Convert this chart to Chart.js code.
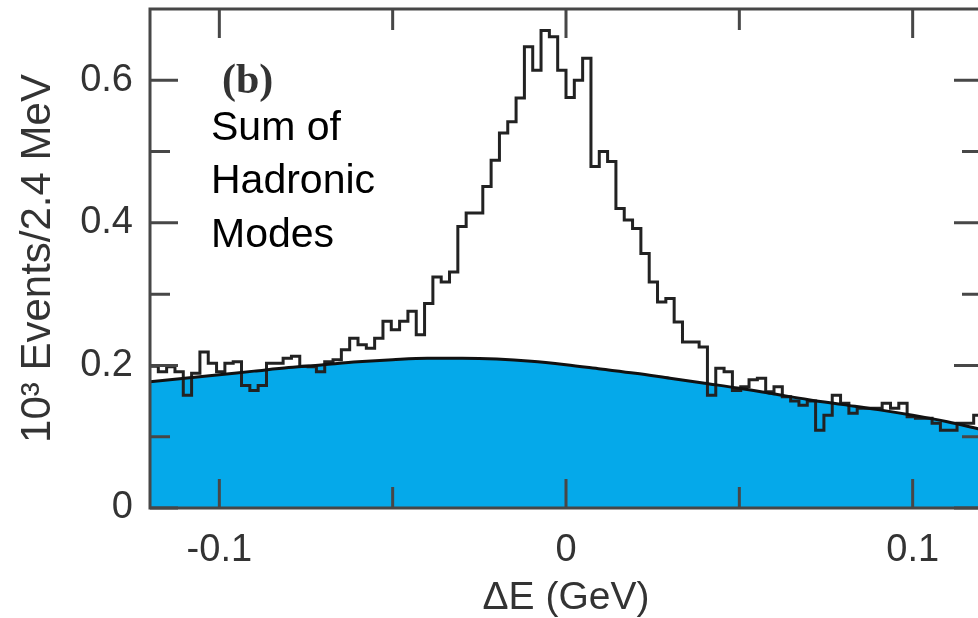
<!DOCTYPE html>
<html lang="en">
<head>
  <meta charset="UTF-8" />
  <title>Delta E - Sum of Hadronic Modes</title>
  <style>
    html, body { margin: 0; padding: 0; overflow: hidden; background: #fff; }
    #wrap { position: absolute; left: 0; top: 0; }
  </style>
</head>
<body>
  <div id="wrap">
    <canvas id="graficoDeltaE" width="990" height="618"></canvas>
  </div>
  <script src="https://cdn.jsdelivr.net/npm/chart.js@4.4.0/dist/chart.umd.min.js"></script>
  <script>
  // histogram: 100 bins of 2.4 MeV from -0.12 to 0.12 GeV (values in 10^3 events)
  const binStart = -0.12;
  const binWidth = 0.0024;
  const counts = [
    0.199, 0.191, 0.198, 0.191, 0.158, 0.189, 0.219, 0.203, 0.191, 0.203,
    0.205, 0.172, 0.165, 0.172, 0.203, 0.203, 0.210, 0.213, 0.199, 0.198,
    0.191, 0.205, 0.208, 0.222, 0.238, 0.229, 0.224, 0.238, 0.262, 0.250,
    0.262, 0.276, 0.243, 0.287, 0.324, 0.317, 0.331, 0.395, 0.414, 0.414,
    0.451, 0.488, 0.526, 0.542, 0.575, 0.647, 0.614, 0.670, 0.661, 0.614,
    0.576, 0.600, 0.631, 0.479, 0.500, 0.486, 0.420, 0.404, 0.392, 0.357,
    0.317, 0.289, 0.294, 0.261, 0.233, 0.233, 0.226, 0.158, 0.196, 0.191,
    0.165, 0.170, 0.180, 0.182, 0.163, 0.170, 0.156, 0.150, 0.144, 0.150,
    0.109, 0.130, 0.158, 0.147, 0.133, 0.140, 0.140, 0.140, 0.147, 0.140,
    0.147, 0.128, 0.126, 0.126, 0.119, 0.109, 0.109, 0.119, 0.119, 0.130
  ];

  // background fit, read every 10 MeV
  const bgX = [-0.12, -0.11, -0.10, -0.09, -0.08, -0.07, -0.06, -0.05, -0.04, -0.03, -0.02, -0.01,
               0.00, 0.01, 0.02, 0.03, 0.04, 0.05, 0.06, 0.07, 0.08, 0.09, 0.10, 0.11, 0.12];
  const bgY = [0.177, 0.182, 0.187, 0.192, 0.197, 0.201, 0.205, 0.208, 0.210, 0.210, 0.209, 0.206,
               0.201, 0.195, 0.189, 0.182, 0.175, 0.168, 0.160, 0.152, 0.145, 0.138, 0.130, 0.121, 0.110];

  const xTicks = [-0.1, 0, 0.1];
  const xMinor = [-0.05, 0.05];
  const yTicks = [0, 0.2, 0.4, 0.6];
  const yMinor = [0.1, 0.3, 0.5];

  const histPts = counts.map((v, i) => ({ x: binStart + i * binWidth, y: v }));
  histPts.push({ x: binStart + counts.length * binWidth, y: counts[counts.length - 1] });
  const bgPts = bgX.map((x, i) => ({ x: x, y: bgY[i] }));

  function fmt(v) {
    if (Math.abs(v) < 1e-9) return '0';
    return v.toFixed(1);
  }

  // frame + inward ticks on all four sides, drawn over the blue fill
  const moldura = {
    id: 'moldura',
    afterDatasetsDraw(chart) {
      const { ctx, chartArea: a, scales: { x, y } } = chart;
      ctx.save();
      ctx.strokeStyle = '#474747';
      ctx.lineWidth = 3;
      ctx.beginPath();
      const tickX = (v, len) => {
        const px = x.getPixelForValue(v);
        ctx.moveTo(px, a.bottom); ctx.lineTo(px, a.bottom - len);
        ctx.moveTo(px, a.top); ctx.lineTo(px, a.top + len);
      };
      const tickY = (v, len) => {
        const py = y.getPixelForValue(v);
        ctx.moveTo(a.left, py); ctx.lineTo(a.left + len, py);
        ctx.moveTo(a.right, py); ctx.lineTo(a.right - len, py);
      };
      xTicks.forEach(v => tickX(v, 29));
      xMinor.forEach(v => tickX(v, 21));
      yTicks.forEach(v => tickY(v, 28));
      yMinor.forEach(v => tickY(v, 20));
      ctx.stroke();
      ctx.strokeRect(a.left, a.top, a.right - a.left, a.bottom - a.top);
      ctx.restore();
    },
    afterDraw(chart) {
      const ctx = chart.ctx;
      ctx.save();
      ctx.fillStyle = '#333';
      ctx.font = 'bold 42px "Liberation Serif"';
      ctx.textBaseline = 'alphabetic';
      ctx.fillText('(b)', 222, 93);
      ctx.fillStyle = '#000';
      ctx.font = '41px "Liberation Sans"';
      ctx.fillText('Sum of', 211, 140);
      ctx.fillText('Hadronic', 211, 193);
      ctx.fillText('Modes', 211, 247);
      ctx.restore();
    }
  };

  new Chart(document.getElementById('graficoDeltaE'), {
    type: 'line',
    data: {
      datasets: [
        {
          label: 'Background',
          data: bgPts,
          borderColor: '#111',
          borderWidth: 3,
          backgroundColor: '#05A9EA',
          fill: 'origin',
          pointRadius: 0,
          cubicInterpolationMode: 'monotone'
        },
        {
          label: 'Data',
          data: histPts,
          borderColor: '#222',
          borderWidth: 3,
          fill: false,
          pointRadius: 0,
          stepped: true,
          borderJoinStyle: 'miter'
        }
      ]
    },
    options: {
      responsive: false,
      animation: false,
      layout: { padding: { top: 9, right: 8, left: 0, bottom: 0 } },
      plugins: {
        legend: { display: false },
        tooltip: { enabled: false },
        filler: { drawTime: 'beforeDatasetsDraw' }
      },
      scales: {
        x: {
          type: 'linear',
          min: -0.12,
          max: 0.12,
          grid: { display: false },
          border: { display: false },
          afterBuildTicks: s => { s.ticks = xTicks.map(v => ({ value: v })); },
          afterFit: s => { s.height = 110; s.paddingLeft = 0; s.paddingRight = 0; },
          ticks: {
            color: '#333',
            font: { family: 'Liberation Sans', size: 38 },
            padding: 12,
            maxRotation: 0,
            autoSkip: false,
            callback: v => fmt(v)
          },
          title: {
            display: true,
            text: 'ΔE (GeV)',
            color: '#333',
            font: { family: 'Liberation Sans', size: 39, lineHeight: 1 },
            padding: { top: 0, bottom: 0 }
          }
        },
        y: {
          min: 0,
          max: 0.7,
          grid: { display: false },
          border: { display: false },
          afterBuildTicks: s => { s.ticks = yTicks.map(v => ({ value: v })); },
          afterFit: s => { s.width = 150; s.paddingTop = 0; s.paddingBottom = 0; },
          ticks: {
            color: '#333',
            font: { family: 'Liberation Sans', size: 38 },
            padding: 9,
            autoSkip: false,
            callback: v => fmt(v)
          },
          title: {
            display: true,
            text: '10³ Events/2.4 MeV',
            color: '#333',
            font: { family: 'Liberation Sans', size: 42, lineHeight: 1 },
            padding: { top: 17, bottom: 0 }
          }
        }
      }
    },
    plugins: [moldura]
  });
  </script>
</body>
</html>
